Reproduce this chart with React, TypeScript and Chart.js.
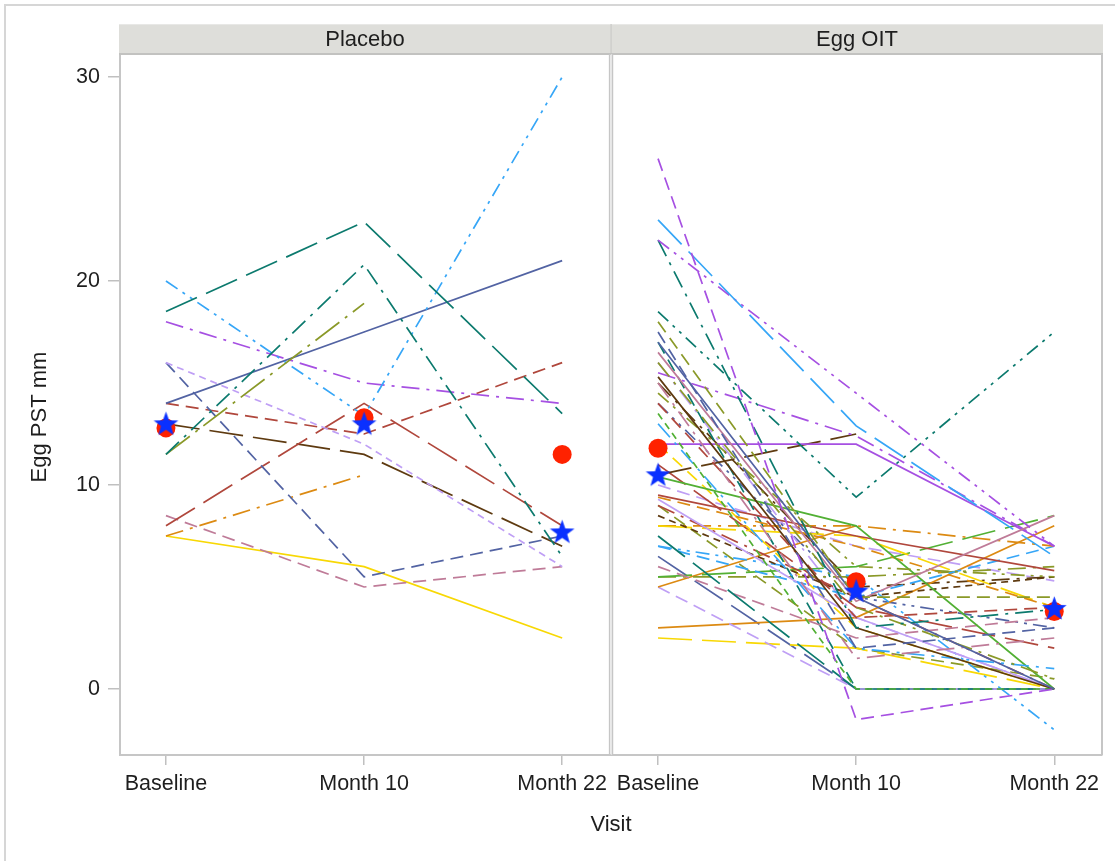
import { useEffect, useRef } from 'react';
import { Chart, registerables } from 'chart.js';

Chart.register(...registerables);

// ---------- data ----------
const visits = ['Baseline', 'Month 10', 'Month 22'];
const panelNames = ['Placebo', 'Egg OIT'];
const yTickValues = [0, 10, 20, 30];
const yTitle = 'Egg PST mm';
const xTitle = 'Visit';

// Placebo: one row per subject [Baseline, Month 10, Month 22]
const placeboValues: (number | null)[][] = [
  [18.5, 22.9, 13.5],
  [11.5, 20.8, 6.5],
  [11.5, 18.9, null],
  [20, 13.4, 30],
  [14, 17.5, 21],
  [18, 15, 14],
  [16, 12, 6],
  [16, 5.5, 7.5],
  [14, 12.5, 16],
  [8, 14, 8],
  [13, 11.5, 7],
  [7.5, 10.5, null],
  [8.5, 5, 6],
  [7.5, 6, 2.5],
  [8, null, null],
];
const placeboColors = [
  'teal', 'teal', 'olive', 'blue', 'slate', 'purple', 'lavender', 'slate',
  'red', 'red', 'brown', 'orange', 'mauve', 'yellow', 'green',
];
const placeboDashes = [
  'long', 'dashdot', 'longdot', 'dashdotdot', 'solid', 'dashdot', 'short', 'medium',
  'medium', 'long', 'long', 'dashdot', 'medium', 'solid', 'solid',
];

// Egg OIT: one row per subject [Baseline, Month 10, Month 22]
const oitValues: (number | null)[][] = [
  [26, -1.5, 0],
  [23, 12.9, 6.5],
  [22, 14.5, 7],
  [22, 3, 3.9],
  [18.5, 9.4, 17.5],
  [18, 4.5, 4.5],
  [17.5, 2, 3],
  [17, 4.5, 0],
  [16.5, 4.3, 8.5],
  [16, 4, 0.5],
  [15.5, 12.4, 7],
  [15.3, 3, 0],
  [15, 1.5, 2.5],
  [14.5, 6, 5.5],
  [14, 3.5, 4],
  [13.5, 0, 0],
  [13, 2, 1],
  [12, 12, 7],
  [10.5, 12.5, null],
  [10.4, 8, 0],
  [9.5, 7.5, 5.8],
  [9.4, 7, 4],
  [9.3, 3.5, 0],
  [9, 4.5, 0],
  [8.5, 4.5, 5.5],
  [8, 7.5, 4],
  [8, 8, 7],
  [7.5, 0, 0],
  [7, 4.5, 7],
  [7, 5.5, -2],
  [6, 2.5, 3.5],
  [5.5, 6, 8.5],
  [5.5, 5.5, 6],
  [5, 8, null],
  [5, 0, 0],
  [3, 3.5, 8],
  [2.5, 2, 0],
  [17, 0, 0],
  [16, 3.5, 0],
  [15, 5, 5.5],
  [14, 4.5, 3],
  [12, 3, 0],
  [11, 4, 2],
  [10, 7, 5.3],
  [9, 2, 0.5],
  [6.5, 0, 0],
];
const oitColors = [
  'purple', 'blue', 'purple', 'teal', 'teal', 'olive', 'slate', 'slate',
  'mauve', 'olive', 'purple', 'brown', 'mauve', 'olive', 'red', 'green',
  'blue', 'purple', 'brown', 'green', 'red', 'orange', 'lavender', 'red',
  'brown', 'yellow', 'orange', 'teal', 'blue', 'blue', 'mauve', 'green',
  'olive', 'orange', 'lavender', 'orange', 'yellow', 'teal', 'lavender', 'brown',
  'slate', 'yellow', 'red', 'lavender', 'olive', 'slate',
];
const oitDashes = [
  'medium', 'long', 'dashdotdot', 'dashdot', 'dashdotdot', 'medium', 'medium', 'solid',
  'solid', 'dashdot', 'dashdot', 'solid', 'dashdot', 'dashdotdot', 'medium', 'short',
  'dashdot', 'solid', 'long', 'solid', 'solid', 'medium', 'solid', 'dashdot',
  'short', 'long', 'dashdot', 'long', 'medium', 'dashdotdot', 'medium', 'long',
  'dashdot', 'solid', 'medium', 'solid', 'long', 'medium', 'dashdot', 'dashdot',
  'dashdotdot', 'medium', 'long', 'medium', 'medium', 'long',
];

// Summary markers
const placeboMean = [12.8, 13.3, 11.5];
const placeboMedian = [13, 13, 7.7];
const oitMean = [11.8, 5.26, 3.8];
const oitMedian = [10.5, 4.8, 3.95];

// ---------- styles / layout ----------
const COLORS: Record<string, string> = {
  slate: '#5263a3',
  red: '#b0473c',
  teal: '#0c7a6e',
  brown: '#5e3a10',
  purple: '#a650e2',
  olive: '#8a9928',
  blue: '#36a6f7',
  mauve: '#bf7b98',
  orange: '#dc8a12',
  green: '#52b034',
  lavender: '#bf9ff5',
  yellow: '#f8d804',
};
const DASHES: Record<string, number[]> = {
  solid: [],
  short: [7, 5],
  medium: [13, 7],
  long: [34, 10],
  longdot: [30, 7, 3, 7],
  dashdot: [18, 7, 3, 7],
  dashdotdot: [14, 6, 3, 6, 3, 6],
};

const FONT = "'Liberation Sans', Arial, Helvetica, sans-serif";
const TEXT = '#1e1e1e';
const FRAME = '#c6c6c6';

const X_MIN = -0.232;
const X_MAX = 4.725;
const PANEL_SHIFT = 2.484;
const LEFT_PANEL_END = 2.242;
const RIGHT_PANEL_START = 2.254;
const Y_MIN = -3.235;
const Y_MAX = 31.078;

function makeStar(): HTMLCanvasElement {
  const c = document.createElement('canvas');
  c.width = 27;
  c.height = 27;
  const g = c.getContext('2d')!;
  const cx = 13.5, cy = 14.2, R = 13, r = 5.3;
  g.beginPath();
  for (let i = 0; i < 10; i++) {
    const rad = i % 2 === 0 ? R : r;
    const a = -Math.PI / 2 + (i * Math.PI) / 5;
    const px = cx + rad * Math.cos(a);
    const py = cy + rad * Math.sin(a);
    if (i === 0) g.moveTo(px, py);
    else g.lineTo(px, py);
  }
  g.closePath();
  g.fillStyle = '#0a30ff';
  g.fill();
  return c;
}

const panelPlugin = {
  id: 'panelFrame',
  afterDraw(chart: any) {
    const { ctx, chartArea, scales } = chart;
    const xs = scales.x;
    const top = chartArea.top;
    const bottom = chartArea.bottom;
    const leftEnd = xs.getPixelForValue(LEFT_PANEL_END);
    const rightStart = xs.getPixelForValue(RIGHT_PANEL_START);
    ctx.save();

    // outer frame
    ctx.strokeStyle = '#d6d6d6';
    ctx.lineWidth = 2;
    ctx.beginPath();
    ctx.moveTo(5, 861);
    ctx.lineTo(5, 5);
    ctx.lineTo(1115, 5);
    ctx.stroke();

    // header strips
    const hTop = top - 31;
    const hBot = top - 1;
    const spans = [
      [chartArea.left - 1, leftEnd + 1],
      [leftEnd + 1, chartArea.right + 1],
    ];
    spans.forEach(([a, b], i) => {
      ctx.fillStyle = '#dededa';
      ctx.fillRect(a, hTop, b - a, hBot - hTop);
      ctx.fillStyle = TEXT;
      ctx.font = `22px ${FONT}`;
      ctx.textAlign = 'center';
      ctx.textBaseline = 'middle';
      ctx.fillText(panelNames[i], (a + b) / 2, (hTop + hBot) / 2 + 1);
    });
    ctx.strokeStyle = '#e8e8e6';
    ctx.lineWidth = 1;
    ctx.beginPath();
    ctx.moveTo(chartArea.left - 1, hTop + 0.5);
    ctx.lineTo(chartArea.right + 1, hTop + 0.5);
    ctx.stroke();
    ctx.strokeStyle = '#cfcfcc';
    ctx.lineWidth = 1.5;
    ctx.beginPath();
    ctx.moveTo(leftEnd + 1, hTop);
    ctx.lineTo(leftEnd + 1, hBot);
    ctx.stroke();
    ctx.strokeStyle = '#c2c2c0';
    ctx.lineWidth = 2;
    ctx.beginPath();
    ctx.moveTo(chartArea.left - 1, hBot);
    ctx.lineTo(chartArea.right + 1, hBot);
    ctx.stroke();

    // panel divider and right border
    ctx.strokeStyle = FRAME;
    ctx.lineWidth = 1.5;
    ctx.beginPath();
    ctx.moveTo(leftEnd - 0.5, hBot);
    ctx.lineTo(leftEnd - 0.5, bottom);
    ctx.moveTo(rightStart, hBot);
    ctx.lineTo(rightStart, bottom);
    ctx.stroke();
    ctx.strokeStyle = '#e4e4e4';
    ctx.lineWidth = 1;
    ctx.beginPath();
    ctx.moveTo((leftEnd + rightStart) / 2, hBot);
    ctx.lineTo((leftEnd + rightStart) / 2, bottom);
    ctx.stroke();
    ctx.strokeStyle = FRAME;
    ctx.lineWidth = 2;
    ctx.beginPath();
    ctx.moveTo(chartArea.right, hBot);
    ctx.lineTo(chartArea.right, bottom);
    ctx.stroke();

    // y-axis title (rotated), centred as in the original
    ctx.fillStyle = TEXT;
    ctx.font = `22px ${FONT}`;
    ctx.textAlign = 'center';
    ctx.textBaseline = 'middle';
    ctx.translate(40, (top + bottom) / 2 + 12);
    ctx.rotate(-Math.PI / 2);
    ctx.fillText(yTitle, 0, 0);
    ctx.restore();
  },
};

function subjectLine(vals: (number | null)[], color: string, dash: string, panel: number) {
  return {
    type: 'line' as const,
    data: vals.map((v, i) => ({ x: i + panel * PANEL_SHIFT, y: v })),
    borderColor: COLORS[color],
    borderWidth: 1.7,
    borderDash: DASHES[dash],
    pointRadius: 0,
    pointHoverRadius: 0,
    spanGaps: false,
    tension: 0,
    fill: false,
    order: 2,
  };
}

export default function App() {
  const canvasRef = useRef<HTMLCanvasElement | null>(null);

  useEffect(() => {
    const canvas = canvasRef.current;
    if (!canvas) return;
    const star = makeStar();

    const datasets: any[] = [];
    placeboValues.forEach((vals, i) =>
      datasets.push(subjectLine(vals, placeboColors[i], placeboDashes[i], 0)),
    );
    oitValues.forEach((vals, i) =>
      datasets.push(subjectLine(vals, oitColors[i], oitDashes[i], 1)),
    );
    const markerData = (vals: number[], panel: number) =>
      vals.map((v, i) => ({ x: i + panel * PANEL_SHIFT, y: v }));
    datasets.push({
      type: 'line',
      data: [...markerData(placeboMean, 0), ...markerData(oitMean, 1)],
      showLine: false,
      pointRadius: 9.5,
      pointBackgroundColor: '#ff2200',
      pointBorderWidth: 0,
      order: -1,
    });
    datasets.push({
      type: 'line',
      data: [...markerData(placeboMedian, 0), ...markerData(oitMedian, 1)],
      showLine: false,
      pointRadius: 12,
      pointStyle: star,
      order: -2,
    });

    const tickPositions: number[] = [];
    const tickLabels: string[] = [];
    panelNames.forEach((_, p) =>
      visits.forEach((v, i) => {
        tickPositions.push(i + p * PANEL_SHIFT);
        tickLabels.push(v);
      }),
    );

    const chart = new Chart(canvas, {
      type: 'line',
      data: { datasets },
      plugins: [panelPlugin],
      options: {
        animation: false,
        responsive: true,
        maintainAspectRatio: false,
        devicePixelRatio: 1,
        layout: { padding: { top: 55, right: 11, left: 0, bottom: 0 } },
        plugins: {
          legend: { display: false },
          tooltip: { enabled: false },
        },
        events: [],
        scales: {
          x: {
            type: 'linear',
            min: X_MIN,
            max: X_MAX,
            afterBuildTicks: (s: any) => {
              s.ticks = tickPositions.map((v) => ({ value: v }));
            },
            afterFit: (s: any) => {
              s.height = 106;
            },
            grid: {
              drawOnChartArea: false,
              drawTicks: true,
              tickLength: 10,
              color: '#c0c0c0',
              lineWidth: 1.5,
            },
            border: { display: true, color: FRAME, width: 2 },
            ticks: {
              autoSkip: false,
              maxRotation: 0,
              minRotation: 0,
              padding: 6,
              color: TEXT,
              font: { family: FONT, size: 21.5 },
              callback: (_v: any, i: number) => tickLabels[i],
            },
            title: {
              display: true,
              text: xTitle,
              color: TEXT,
              font: { family: FONT, size: 22 },
              padding: { top: 0, bottom: 23 },
            },
          },
          y: {
            type: 'linear',
            min: Y_MIN,
            max: Y_MAX,
            afterBuildTicks: (s: any) => {
              s.ticks = yTickValues.map((v) => ({ value: v }));
            },
            afterFit: (s: any) => {
              s.width = 120;
            },
            grid: {
              drawOnChartArea: false,
              drawTicks: true,
              tickLength: 12,
              color: '#c0c0c0',
              lineWidth: 1.5,
            },
            border: { display: true, color: FRAME, width: 2 },
            ticks: {
              padding: 8,
              color: TEXT,
              font: { family: FONT, size: 21.5 },
            },
            title: { display: false },
          },
        },
      } as any,
    });
    return () => chart.destroy();
  }, []);

  return (
    <div
      style={{
        position: 'fixed',
        left: 0,
        top: 0,
        width: 1115,
        height: 861,
        background: '#ffffff',
      }}
    >
      <canvas ref={canvasRef} />
    </div>
  );
}
